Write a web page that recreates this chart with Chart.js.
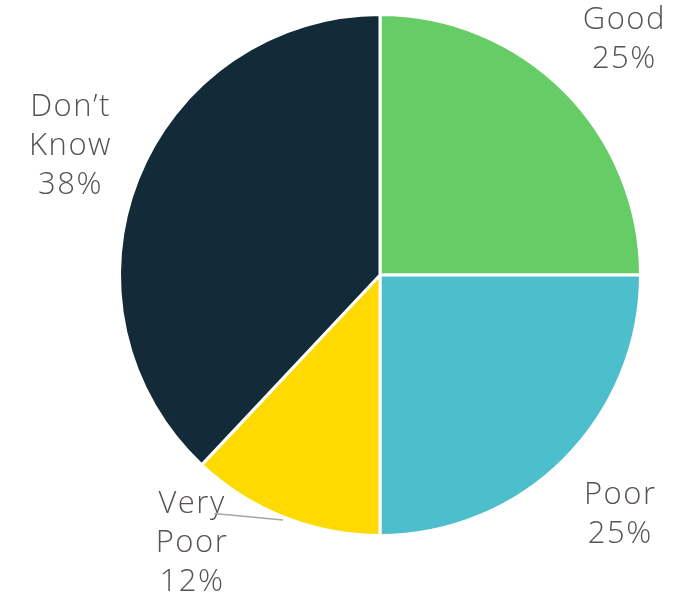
<!DOCTYPE html>
<html>
<head>
<meta charset="utf-8">
<script src="https://cdn.jsdelivr.net/npm/chart.js@4"></script>
<style>
  html, body { margin: 0; padding: 0; background: #fff; }
  #wrap { width: 697px; height: 596px; }
</style>
</head>
<body>
<div id="wrap"><canvas id="ratingChart" width="697" height="596"></canvas></div>
<script>
// Survey answers and their shares (%)
const categories = ['Good', 'Poor', 'Very Poor', 'Don\u2019t Know'];
const shares = [25, 25, 12, 38];
const sliceColors = ['#66cc66', '#4dbfcc', '#ffda00', '#132a38'];
// Label text lines (name words, then the percentage)
const labelLines = [['Good'], ['Poor'], ['Very', 'Poor'], ['Don\u2019t', 'Know']];

// Placement of each label: distance from the centre (in radii) and angle nudge (deg)
const labelRadius = [1.3, 1.3, 1.26, 1.29];
const labelNudge = [1, 0, 13.5, 1];

const labelFont = '300 31px "Open Sans", sans-serif';
const spacing = 1.5;
const lineHeight = 39;

// Draws the outside labels and the leader line for the small slice
const outsideLabels = {
    id: 'outsideLabels',
    afterDatasetsDraw(chart) {
        const ctx = chart.ctx;
        const arcs = chart.getDatasetMeta(0).data;
        ctx.save();
        ctx.font = labelFont;
        ctx.letterSpacing = spacing + 'px';
        ctx.fillStyle = '#595254';
        ctx.textAlign = 'center';
        ctx.textBaseline = 'middle';
        arcs.forEach((arc, i) => {
            const mid = (arc.startAngle + arc.endAngle) / 2;
            const a = mid + labelNudge[i] * Math.PI / 180;
            const r = arc.outerRadius * labelRadius[i];
            const cx = arc.x + Math.cos(a) * r;
            const cy = arc.y + Math.sin(a) * r;
            const lines = labelLines[i].concat(shares[i] + '%');
            const top = cy - (lines.length - 1) * lineHeight / 2;
            // letter spacing adds a trailing gap, so shift right by half of it
            lines.forEach((t, j) => ctx.fillText(t, cx + spacing / 2, top + j * lineHeight));

            if (labelNudge[i] > 5) {
                // leader line from the slice edge to the first label line
                const ex = arc.x + Math.cos(mid) * (arc.outerRadius + 3);
                const ey = arc.y + Math.sin(mid) * (arc.outerRadius + 3);
                ctx.strokeStyle = '#a6a6a6';
                ctx.lineWidth = 1.5;
                ctx.beginPath();
                ctx.moveTo(ex, ey);
                ctx.lineTo(cx + 23, top + 9);
                ctx.stroke();
            }
        });
        ctx.restore();
    }
};

new Chart(document.getElementById('ratingChart').getContext('2d'), {
    type: 'pie',
    data: {
        labels: categories,
        datasets: [{
            data: shares,
            backgroundColor: sliceColors,
            borderColor: '#ffffff',
            borderWidth: 3
        }]
    },
    options: {
        responsive: false,
        animation: false,
        layout: {
            padding: { left: 118, right: 55, top: 13, bottom: 59 }
        },
        plugins: {
            legend: { display: false },
            tooltip: { enabled: false }
        }
    },
    plugins: [outsideLabels]
});
</script>
</body>
</html>
